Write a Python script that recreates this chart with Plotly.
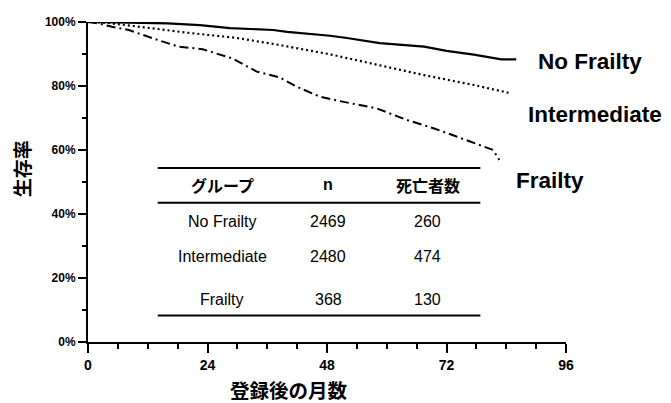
import plotly.graph_objects as go

# ---- data ----
months_nofrailty = [0, 10, 16, 22.5, 28.5, 37.2, 40, 48.6, 52, 58.6, 67.5, 72, 77.5, 83, 86]
surv_nofrailty = [100, 99.8, 99.6, 99.0, 98.1, 97.5, 96.9, 95.7, 95.0, 93.4, 92.3, 91.0, 89.8, 88.3, 88.3]

months_intermediate = [0, 3.5, 13, 19.6, 29.6, 38.5, 48.6, 58.6, 67.5, 77.5, 85]
surv_intermediate = [100, 99.8, 98.0, 96.7, 95.1, 92.8, 89.9, 86.4, 83.4, 80.3, 77.7]

months_frailty = [0, 2, 4.8, 8.2, 13, 18.2, 23, 29, 33.9, 38.5, 41.9, 46.5, 50.5, 56.5, 58,
                  64, 69.4, 74, 78.8, 81.4, 82.6]
surv_frailty = [100, 99.6, 98.5, 97.5, 94.9, 92.3, 91.5, 88.6, 84.5, 82.7, 79.8, 76.7, 75.3, 73.5, 73.0,
                69.4, 66.8, 64.2, 61.6, 60.0, 56.9]

group_names = ["No Frailty", "Intermediate", "Frailty"]
table_header = ["グループ", "n", "死亡者数"]
table_n = [2469, 2480, 368]
table_deaths = [260, 474, 130]

x_tickvals = [0, 24, 48, 72, 96]
y_tickvals = [0, 20, 40, 60, 80, 100]
y_ticktext = ["0%", "20%", "40%", "60%", "80%", "100%"]
x_title = "登録後の月数"
y_title = "生存率"

# ---- figure ----
fig = go.Figure()
fig.add_trace(go.Scatter(x=months_nofrailty, y=surv_nofrailty, mode="lines",
                         line=dict(color="black", width=2.2), name=group_names[0]))
fig.add_trace(go.Scatter(x=months_intermediate, y=surv_intermediate, mode="lines",
                         line=dict(color="black", width=2.2, dash="2px,3px"), name=group_names[1]))
fig.add_trace(go.Scatter(x=months_frailty, y=surv_frailty, mode="lines",
                         line=dict(color="black", width=2, dash="9px,4px,2px,4px"), name=group_names[2]))

jp = "Noto Sans CJK JP"
lat = "Liberation Sans"

annotations = []
# right side labels (paper coordinates, outside the x range)
label_pos = [(1.050, 0.877), (1.060, 0.711), (0.967, 0.505)]
for name, (lx, ly) in zip(group_names, label_pos):
    annotations.append(dict(x=lx, y=ly, xref="paper", yref="paper", text=name, showarrow=False,
                            font=dict(family=lat, size=22.5, color="black", weight="bold"),
                            xanchor="center", yanchor="middle"))

# table
col_x = [27.0, 48.3, 68.2]
header_y = 49.1
row_y = [37.6, 26.7, 13.2]
for cx, h in zip(col_x, table_header):
    annotations.append(dict(x=cx, y=header_y, xref="x", yref="y", text=h, showarrow=False,
                            font=dict(family=jp if h != "n" else lat, size=16, color="black", weight="bold"),
                            xanchor="center", yanchor="middle"))
for i in range(3):
    for cx, val in zip(col_x, [group_names[i], str(table_n[i]), str(table_deaths[i])]):
        annotations.append(dict(x=cx, y=row_y[i], xref="x", yref="y", text=val, showarrow=False,
                                font=dict(family=lat, size=16, color="black"),
                                xanchor="center", yanchor="middle"))

# axis titles
annotations.append(dict(x=0.4215, y=-0.148, xref="paper", yref="paper", text=x_title, showarrow=False,
                        font=dict(family=jp, size=19.5, color="black", weight="bold"),
                        xanchor="center", yanchor="middle"))
annotations.append(dict(x=-0.140, y=0.54, xref="paper", yref="paper", text=y_title, showarrow=False,
                        textangle=-90,
                        font=dict(family=jp, size=19, color="black", weight="bold"),
                        xanchor="center", yanchor="middle"))

shapes = []
for ly in [54.4, 43.5, 8.3]:
    shapes.append(dict(type="line", xref="x", yref="y", x0=14.0, x1=78.8, y0=ly, y1=ly,
                       line=dict(color="black", width=2)))

# the page adds an 8px body margin, so the figure is sized to fit inside it
fig.update_layout(
    width=663, height=395,
    margin=dict(l=80, r=105, t=14, b=61),
    plot_bgcolor="white", paper_bgcolor="white",
    showlegend=False,
    annotations=annotations,
    shapes=shapes,
    xaxis=dict(range=[0, 96], tickvals=x_tickvals, ticktext=[str(v) for v in x_tickvals],
               showline=True, linecolor="black", linewidth=2, mirror=False, automargin=False,
               ticks="outside", ticklen=9, tickwidth=2, tickcolor="black",
               minor=dict(dtick=6, tick0=0, ticks="outside", ticklen=5, tickwidth=2, tickcolor="black"),
               showgrid=False, zeroline=False,
               tickfont=dict(family=lat, size=14, color="black", weight="bold")),
    yaxis=dict(range=[0, 100], tickvals=y_tickvals, ticktext=y_ticktext,
               showline=True, linecolor="black", linewidth=2, automargin=False,
               ticks="outside", ticklen=8, tickwidth=2, tickcolor="black",
               minor=dict(dtick=10, tick0=0, ticks="outside", ticklen=4, tickwidth=2, tickcolor="black"),
               showgrid=False, zeroline=False,
               tickfont=dict(family=lat, size=12, color="black", weight="bold")),
)

fig.write_html("out.html")
